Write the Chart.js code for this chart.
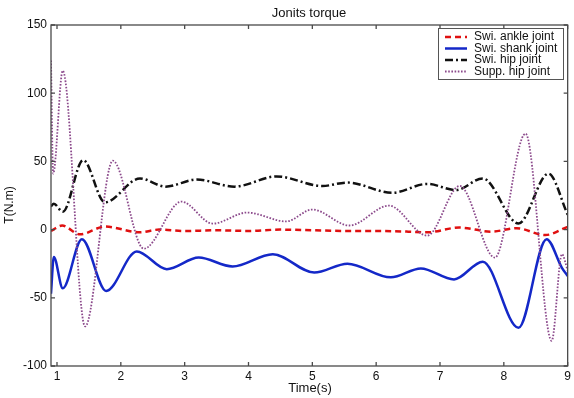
<!DOCTYPE html>
<html>
<head>
<meta charset="utf-8">
<script src="https://cdn.jsdelivr.net/npm/chart.js@4/dist/chart.umd.min.js"></script>
<style>
  html, body { margin: 0; padding: 0; background: #fff; }
  #wrap { width: 574px; height: 398px; }
</style>
</head>
<body>
<div id="wrap"><canvas id="c" width="574" height="398"></canvas></div>
<script>
// Joint torque traces over one walking sequence (time in s, torque in N.m)
const ankleTime   = [0.906, 1.08, 1.36, 1.75, 2.3, 2.6, 3.0, 3.5, 4.0, 4.5, 5.0, 5.5, 6.0, 6.5, 6.8, 7.3, 7.8, 8.2, 8.65, 9.0];
const ankleTorque = [-1, 3, -3.5, 2.2, -2, 0, -1, -0.5, -1, 0, -0.5, -1, -1, -1.5, -2, 1.5, -1.5, 1, -4, 2];

const shankTime   = [0.906, 0.95, 1.09, 1.39, 1.77, 2.25, 2.72, 3.22, 3.75, 4.38, 5.03, 5.55, 6.23, 6.70, 7.22, 7.67, 8.23, 8.67, 8.91, 9.0];
const shankTorque = [-47, -20, -43, -7, -45, -16, -29, -20.5, -27, -18, -31.5, -25, -35, -28.5, -36.5, -23.5, -72, -7, -28, -34];

const swingHipTime   = [0.906, 0.95, 1.09, 1.41, 1.75, 2.3, 2.7, 3.19, 3.78, 4.44, 5.16, 5.55, 6.25, 6.8, 7.25, 7.67, 8.23, 8.7, 9.0];
const swingHipTorque = [17, 19, 13, 51, 20, 37.5, 31.5, 36.7, 31.5, 39, 32, 34.5, 27, 33.5, 29, 37.5, 4.5, 41, 11];

const suppHipTime   = [0.906, 0.94, 1.09, 1.44, 1.875, 2.36, 2.95, 3.44, 3.98, 4.59, 5.0, 5.58, 6.2, 6.8, 7.31, 7.86, 8.34, 8.75, 8.91, 9.0];
const suppHipTorque = [124, 41, 116.5, -71, 50.5, -14, 20.5, 4.4, 12.5, 6, 14.7, 3, 17.6, -4.4, 32, -20.5, 70.4, -81.5, -18, -30];

const xTickValues = [1, 2, 3, 4, 5, 6, 7, 8, 9];
const seriesNames = ['Swi. ankle joint', 'Swi. shank joint', 'Swi. hip joint', 'Supp. hip joint'];

const pairs = (xs, ys) => xs.map((x, i) => ({ x: x, y: ys[i] }));

const FONT = '"Liberation Sans", Arial, sans-serif';

// Box frame, inward tick marks, titles and a line-style legend
const decor = {
  id: 'decor',
  afterDatasetsDraw(chart) {
    const ctx = chart.ctx;
    const a = chart.chartArea;
    const xs = chart.scales.x, ys = chart.scales.y;
    ctx.save();
    ctx.strokeStyle = '#4a4a4a';
    ctx.lineWidth = 1.3;
    ctx.setLineDash([]);
    ctx.strokeRect(a.left, a.top, a.right - a.left, a.bottom - a.top);
    const L = 4;
    ctx.beginPath();
    xs.ticks.forEach(t => {
      const px = xs.getPixelForValue(t.value);
      ctx.moveTo(px, a.bottom); ctx.lineTo(px, a.bottom - L);
      ctx.moveTo(px, a.top); ctx.lineTo(px, a.top + L);
    });
    ys.ticks.forEach(t => {
      const py = ys.getPixelForValue(t.value);
      ctx.moveTo(a.left, py); ctx.lineTo(a.left + L, py);
      ctx.moveTo(a.right, py); ctx.lineTo(a.right - L, py);
    });
    ctx.stroke();

    // titles
    ctx.fillStyle = '#111';
    ctx.font = '13px ' + FONT;
    ctx.textAlign = 'center';
    ctx.textBaseline = 'middle';
    ctx.fillText('Jonits torque', 309, 13);
    ctx.fillText('Time(s)', 310, 388);
    ctx.save();
    ctx.translate(10, 205);
    ctx.rotate(-Math.PI / 2);
    ctx.font = '12px ' + FONT;
    ctx.fillText('T(N.m)', 0, 0);
    ctx.restore();

    // legend
    const bx = 438, by = 28, bw = 125, bh = 51;
    ctx.fillStyle = '#fff';
    ctx.fillRect(bx, by, bw, bh);
    ctx.strokeStyle = '#555';
    ctx.lineWidth = 1;
    ctx.strokeRect(bx + 0.5, by + 0.5, bw, bh);
    chart.data.datasets.forEach((ds, i) => {
      const y = 37 + i * 11.5;
      ctx.strokeStyle = ds.borderColor;
      ctx.lineWidth = ds.borderWidth;
      ctx.setLineDash(ds.borderDash || []);
      ctx.beginPath();
      ctx.moveTo(445, y);
      ctx.lineTo(467, y);
      ctx.stroke();
      ctx.setLineDash([]);
      ctx.fillStyle = '#111';
      ctx.font = '12px ' + FONT;
      ctx.textAlign = 'left';
      ctx.fillText(ds.label, 474, y);
    });
    ctx.restore();
  }
};

const common = { pointRadius: 0, fill: false, cubicInterpolationMode: 'monotone' };

new Chart(document.getElementById('c'), {
  type: 'line',
  data: {
    datasets: [
      Object.assign({ label: seriesNames[0], data: pairs(ankleTime, ankleTorque),
        borderColor: '#e01010', borderWidth: 2.5, borderDash: [6, 4], order: 1 }, common),
      Object.assign({ label: seriesNames[1], data: pairs(shankTime, shankTorque),
        borderColor: '#1428c8', borderWidth: 2.5, borderDash: [], order: 2 }, common),
      Object.assign({ label: seriesNames[2], data: pairs(swingHipTime, swingHipTorque),
        borderColor: '#111111', borderWidth: 2.5, borderDash: [8, 3, 2, 3], order: 3 }, common),
      Object.assign({ label: seriesNames[3], data: pairs(suppHipTime, suppHipTorque),
        borderColor: '#8c4a8c', borderWidth: 1.8, borderDash: [1.6, 1.6], order: 0 }, common)
    ]
  },
  options: {
    responsive: false,
    animation: false,
    events: [],
    layout: { padding: { top: 25, right: 5, left: 0, bottom: 0 } },
    plugins: { legend: { display: false }, title: { display: false }, tooltip: { enabled: false } },
    scales: {
      x: {
        type: 'linear', min: 0.906, max: 9,
        grid: { display: false, drawTicks: false },
        border: { display: false },
        afterBuildTicks: s => { s.ticks = xTickValues.map(v => ({ value: v })); },
        afterFit: s => { s.height = 32; },
        ticks: { color: '#111', font: { family: FONT, size: 12 }, padding: 3, maxRotation: 0 }
      },
      y: {
        type: 'linear', min: -100, max: 150,
        grid: { display: false, drawTicks: false },
        border: { display: false },
        afterFit: s => { s.width = 51; },
        ticks: { stepSize: 50, color: '#111', font: { family: FONT, size: 12 }, padding: 4 }
      }
    }
  },
  plugins: [decor]
});
</script>
</body>
</html>
